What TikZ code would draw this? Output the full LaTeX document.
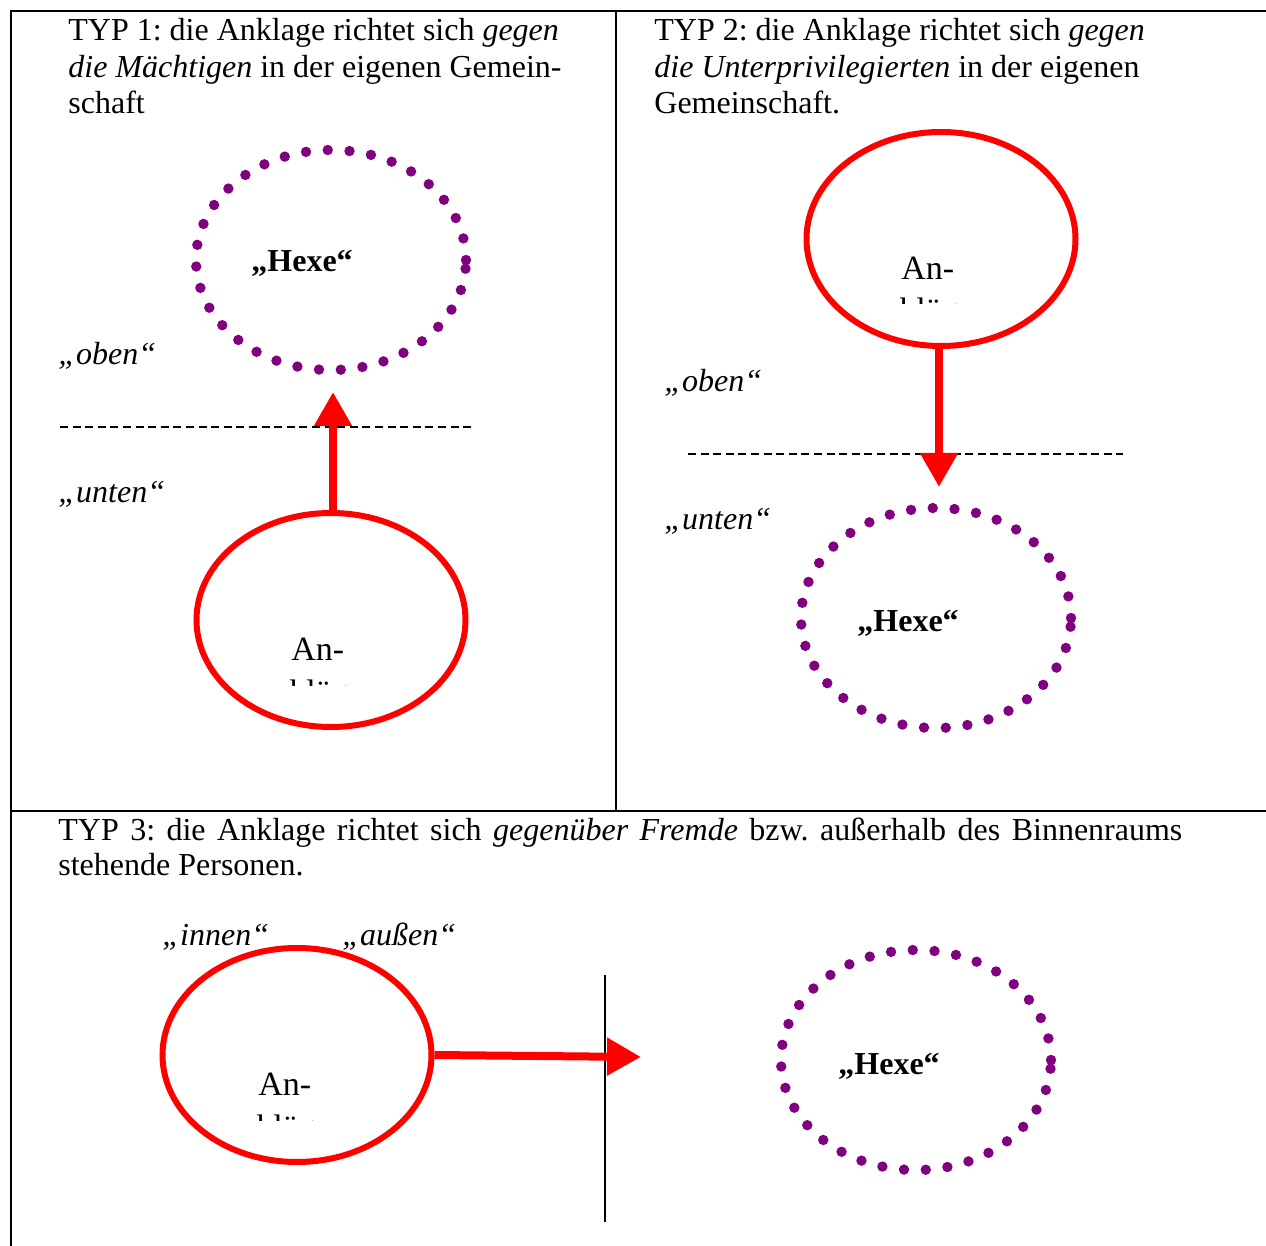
\documentclass[tikz,border=0pt]{standalone}
\usepackage{fontspec}
\setmainfont{Liberation Serif}
\usetikzlibrary{shapes.geometric,arrows.meta}
\definecolor{dotpurple}{RGB}{128,0,128}
\frenchspacing
\begin{document}
\begin{tikzpicture}[x=0.5pt,y=-0.5pt,
  txt/.style={anchor=base west,inner sep=0pt,font=\fontsize{16}{18.5}\selectfont\frenchspacing},
  lbl/.style={anchor=base west,inner sep=0pt,font=\fontsize{16}{18.5}\selectfont\itshape},
  hexe/.style={anchor=base west,inner sep=0pt,font=\fontsize{16}{18.5}\selectfont\bfseries},
  ank/.style={anchor=base west,inner sep=0pt,font=\fontsize{17}{20}\selectfont},
  dotell/.style={ellipse,minimum width=135pt,minimum height=110pt,inner sep=0pt,draw=dotpurple,line width=5.2pt,line cap=round,dash pattern=on 0pt off 10.9pt},
  redell/.style={ellipse,minimum width=134.5pt,minimum height=107pt,inner sep=0pt,draw=red,line width=3pt},
  arr/.style={draw=red,line width=4pt,-{Triangle[width=18pt,length=17pt]}},
  frame/.style={line width=1.3pt},
  thinframe/.style={line width=1pt},
  sep/.style={line width=0.65pt,dash pattern=on 4pt off 2.3pt}]
\useasboundingbox[fill=white] (0,0) rectangle (1266,1246);
% table frame
\draw[frame] (10,11) -- (1266,11);
\draw[frame] (11,10) -- (11,1246);
\draw[frame] (11,811) -- (1266,811);
\draw[thinframe] (616,11) -- (616,811);

% ---------- Panel 1 ----------
\node[txt] (p1a) at (68,41) {TYP 1: die Anklage richtet sich \textit{gegen}};
\node[txt] (p1b) at (68,78) {\textit{die Mächtigen} in der eigenen Gemein-};
\node[txt] (p1c) at (68,114) {schaft};
\node[dotell] (hx1) at (331,260) {};
\node[hexe] (hx1t) at (251,272) {„Hexe“};
\node[lbl] (ob1) at (58,365) {„oben“};
\coordinate (d1a) at (60,427);
\coordinate (d1b) at (472,427);
\draw[sep] (d1a) -- (d1b);
\node[lbl] (un1) at (58,503) {„unten“};
\node[redell] (ak1) at (331,620) {};
\node[ank] (ak1t) at (291,661) {An-};
\begin{scope}
\clip (200,640) rectangle (460,686);
\node[ank] (ak1u) at (289,704) {kläger};
\end{scope}
\coordinate (t1) at (333,392);
\draw[arr] (ak1.north -| t1) -- (t1);

% ---------- Panel 2 ----------
\node[txt] (p2a) at (654,41) {TYP 2: die Anklage richtet sich \textit{gegen}};
\node[txt] (p2b) at (654,78) {\textit{die Unterprivilegierten} in der eigenen};
\node[txt] (p2c) at (654,114) {Gemeinschaft.};
\node[redell] (ak2) at (941,239) {};
\node[ank] (ak2t) at (901,280) {An-};
\begin{scope}
\clip (810,260) rectangle (1070,304);
\node[ank] (ak2u) at (899,322) {kläger};
\end{scope}
\node[lbl] (ob2) at (664,392) {„oben“};
\coordinate (d2a) at (688,454);
\coordinate (d2b) at (1123,454);
\draw[sep] (d2a) -- (d2b);
\node[lbl] (un2) at (664,530) {„unten“};
\node[dotell] (hx2) at (936,618) {};
\node[hexe] (hx2t) at (857,632) {„Hexe“};
\coordinate (t2) at (939,487);
\draw[arr] (ak2.south -| t2) -- (t2);

% ---------- Panel 3 ----------
\node[txt] (p3a) at (58,841) {\makebox[562pt][s]{TYP 3: die Anklage richtet sich \textit{gegenüber Fremde} bzw. außerhalb des Binnenraums}};
\node[txt] (p3b) at (58,876) {stehende Personen.};
\node[lbl] (in3) at (162,945) {„innen“};
\node[lbl] (au3) at (342,945) {„außen“};
\node[redell] (ak3) at (297,1055) {};
\node[ank] (ak3t) at (258,1095) {An-};
\begin{scope}
\clip (165,1075) rectangle (430,1120);
\node[ank] (ak3u) at (256,1138) {kläger};
\end{scope}
\coordinate (v3a) at (605,975);
\coordinate (v3b) at (605,1222);
\draw[thinframe] (v3a) -- (v3b);
\node[dotell] (hx3) at (916,1060) {};
\node[hexe] (hx3t) at (838,1074) {„Hexe“};
\coordinate (t3) at (641,1057);
\draw[arr] (ak3.east) -- (t3);
\end{tikzpicture}
\end{document}
